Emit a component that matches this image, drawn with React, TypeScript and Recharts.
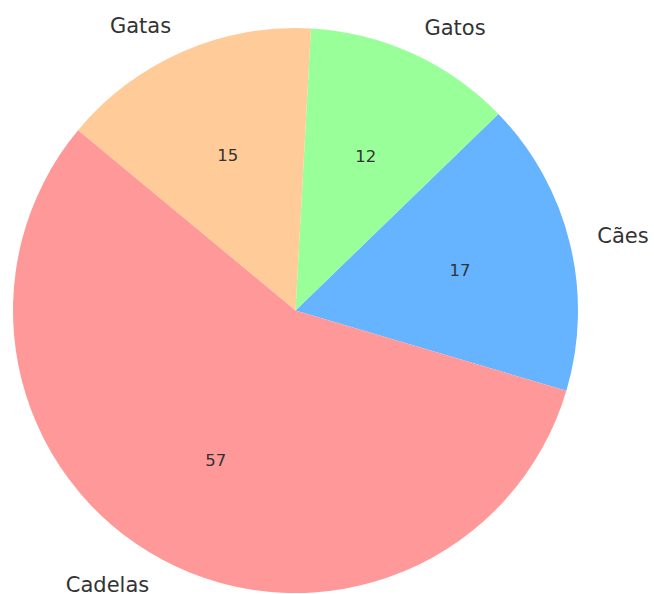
import { PieChart, Pie, Cell } from "recharts";

const categories = ["Cães", "Gatos", "Gatas", "Cadelas"];
const counts = [17, 12, 15, 57];
const sliceColors = ["#66b3ff", "#99ff99", "#ffcc99", "#ff9999"];

const RADIAN = Math.PI / 180;

const data = categories.map((name, i) => ({ name, value: counts[i] }));

// outer name at 1.1 r, value inside at 0.6 r (like matplotlib's pie defaults)
// eslint-disable-next-line @typescript-eslint/no-explicit-any
const renderLabel = (props: any) => {
  const { cx, cy, midAngle, outerRadius, name, value } = props;
  const cos = Math.cos(-midAngle * RADIAN);
  const sin = Math.sin(-midAngle * RADIAN);
  const ox = cx + outerRadius * 1.1 * cos;
  const oy = cy + outerRadius * 1.1 * sin;
  const ix = cx + outerRadius * 0.6 * cos;
  const iy = cy + outerRadius * 0.6 * sin;
  return (
    <g>
      <text
        x={ox}
        y={oy}
        textAnchor={cos >= 0 ? "start" : "end"}
        dominantBaseline="central"
        fill="#333333"
        fontSize={21}
        fontFamily="DejaVu Sans"
      >
        {name}
      </text>
      <text
        x={ix}
        y={iy}
        textAnchor="middle"
        dominantBaseline="central"
        fill="#333333"
        fontSize={16.5}
        fontFamily="DejaVu Sans"
      >
        {value}
      </text>
    </g>
  );
};

export default function App() {
  return (
    <div style={{ position: "absolute", left: 0, top: 0, width: 654, height: 594, background: "#fff" }}>
      <PieChart width={654} height={594} margin={{ top: 0, right: 0, bottom: 0, left: 0 }}>
        <Pie
          data={data}
          dataKey="value"
          nameKey="name"
          cx={295.5}
          cy={310.5}
          outerRadius={282.5}
          startAngle={-16.5}
          endAngle={343.5}
          stroke="none"
          label={renderLabel}
          labelLine={false}
          isAnimationActive={false}
        >
          {data.map((d, i) => (
            <Cell key={d.name} fill={sliceColors[i]} />
          ))}
        </Pie>
      </PieChart>
    </div>
  );
}
